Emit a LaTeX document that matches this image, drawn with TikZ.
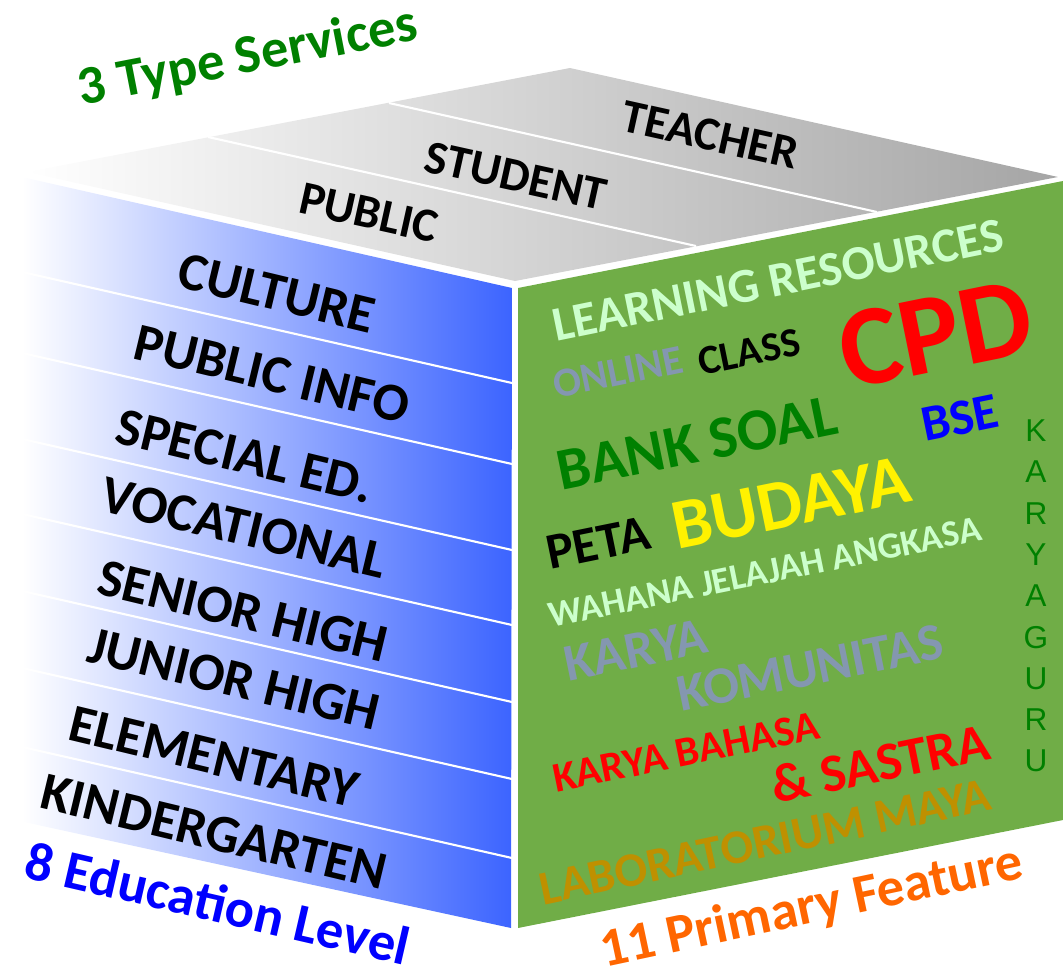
\documentclass[tikz,border=0pt]{standalone}
\usepackage{fontspec}
\setmainfont{Carlito}
\newfontfamily\arialfont{Liberation Sans}
\definecolor{facegreen}{RGB}{112,173,71}
\definecolor{faceblue}{RGB}{60,100,255}
\definecolor{topgray}{RGB}{165,165,165}
\definecolor{darkgreen}{RGB}{0,128,0}
\definecolor{mint}{RGB}{204,255,204}
\definecolor{slate}{RGB}{132,151,176}
\definecolor{ochre}{RGB}{191,144,0}
\definecolor{tangerine}{RGB}{255,102,0}
\tikzset{
  caption/.style={inner sep=0pt, font=\bfseries\fontsize{31}{31}\selectfont},
  service/.style={inner sep=0pt, rotate=-12.5, font=\bfseries\fontsize{27}{27}\selectfont},
  level/.style={inner sep=0pt, rotate=-13.5, font=\bfseries\fontsize{30.5}{30.5}\selectfont},
  feature/.style 2 args={inner sep=0pt, rotate=11.5, text=#1, font=\bfseries\fontsize{#2}{#2}\selectfont},
  divider/.style={white, line width=1.2pt}
}
\begin{document}
\begin{tikzpicture}[x=0.02cm, y=-0.02cm]
    \useasboundingbox (0,0) rectangle (1063,968);
    \coordinate (topL) at (27,172);
    \coordinate (topB) at (570,68);
    \coordinate (topR) at (1058,177);
    \coordinate (topF) at (515,281);
    \shade[left color=white, right color=topgray] (topL) -- (topB) -- (topR) -- (topF) -- cycle;
    \draw[divider] (208,137) -- (696,246);
    \draw[divider] (389,103) -- (877,212);
    \shade[left color=white, middle color=faceblue!30!white, right color=faceblue] (22,177) -- (512,288) -- (511,928) -- (24,822) -- cycle;
    \draw[divider] (22,272) -- (512,383);
    \draw[divider] (22,353) -- (512,464);
    \draw[divider] (22,439) -- (512,550);
    \draw[divider] (22,514) -- (512,625);
    \draw[divider] (22,591) -- (512,702);
    \draw[divider] (22,668) -- (512,779);
    \draw[divider] (22,747) -- (512,858);
    \fill[facegreen] (518,288) -- (1063,181) -- (1063,820) -- (518,928) -- cycle;
    \node[caption, text=darkgreen, rotate=11] (services) at (248,58) {3 Type Services};
    \node[caption, text=blue, rotate=-13] (levels) at (218,903) {8 Education Level};
    \node[caption, text=tangerine, rotate=12] (features) at (812,908) {11 Primary Feature};
    \node[service] (public) at (369,213) {PUBLIC};
    \node[service] (student) at (516,176) {STUDENT};
    \node[service] (teacher) at (710,135) {TEACHER};
    \node[level] (culture) at (277,293) {CULTURE};
    \node[level] (publicinfo) at (272,374) {PUBLIC INFO};
    \node[level] (specialed) at (245,456) {SPECIAL ED.};
    \node[level] (vocational) at (244,528) {VOCATIONAL};
    \node[level] (senior) at (243,611) {SENIOR HIGH};
    \node[level] (junior) at (234,679) {JUNIOR HIGH};
    \node[level] (elementary) at (214,757) {ELEMENTARY};
    \node[level] (kinder) at (214,832) {KINDERGARTEN};
    \node[feature={mint}{27.8}] (learning) at (778,280) {LEARNING RESOURCES};
    \node[feature={slate}{23.5}] (online) at (618,372) {ONLINE};
    \node[feature={black}{23.5}] (class) at (749,352) {CLASS};
    \node[feature={red}{65}] (cpd) at (936,334) {CPD};
    \node[feature={darkgreen}{34}] (banksoal) at (697,443) {BANK SOAL};
    \node[feature={blue}{29}] (bse) at (960,418) {BSE};
    \node[feature={black}{29}] (peta) at (598,543) {PETA};
    \node[feature={yellow}{40.5}] (budaya) at (791,503) {BUDAYA};
    \node[feature={mint}{21}] (wahana) at (765,572) {WAHANA JELAJAH ANGKASA};
    \node[feature={slate}{30}] (karya) at (636,650) {KARYA};
    \node[feature={slate}{30}] (komunitas) at (810,668) {KOMUNITAS};
    \node[feature={red}{24}] (bahasa) at (686,752) {KARYA BAHASA};
    \node[feature={red}{30.6}] (sastra) at (880,763) {\& SASTRA};
    \node[feature={ochre}{27.5}, rotate=0.5] (labmaya) at (765,842) {LABORATORIUM MAYA};
    \node[inner sep=0pt, align=center, text=darkgreen, font=\arialfont\fontsize{18}{23.5}\selectfont] (karyaguru) at (1036,596) {K\\A\\R\\Y\\A\\G\\U\\R\\U};
\end{tikzpicture}
\end{document}
